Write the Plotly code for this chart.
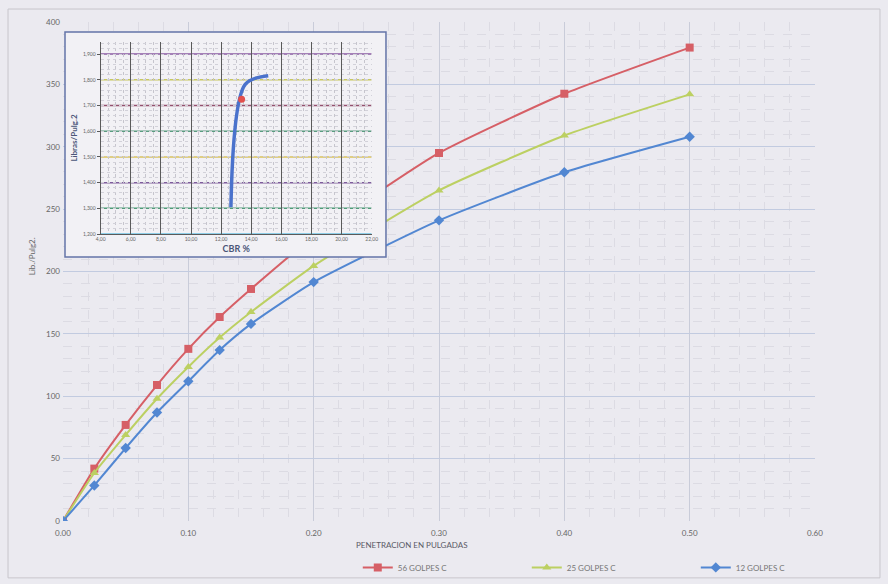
import plotly.graph_objects as go

# ---------------- data ----------------
penetracion = [0, 0.025, 0.05, 0.075, 0.1, 0.125, 0.15, 0.2, 0.3, 0.4, 0.5]
golpes_56 = [0, 42, 77, 109, 138, 163.5, 186, 228, 295, 342.5, 379.5]
golpes_25 = [0, 38.5, 69, 98, 123.5, 147, 167.5, 204.5, 265, 309, 342]
golpes_12 = [0, 28.5, 58.5, 87, 112, 137, 158, 191.5, 241, 279.5, 308]
series_names = ["56 GOLPES C", "25 GOLPES C", "12 GOLPES C"]

main_x_ticks = [0, 0.1, 0.2, 0.3, 0.4, 0.5, 0.6]
main_x_labels = ["0.00", "0.10", "0.20", "0.30", "0.40", "0.50", "0.60"]
main_y_ticks = [0, 50, 100, 150, 200, 250, 300, 350, 400]

# inset (CBR vs density)
cbr_values = [12.65, 13.6, 15.13]
dens_values = [1.304, 1.782, 1.816]
cbr_point = [13.36]
dens_point = [1.724]
cbr_ticks = [4, 6, 8, 10, 12, 14, 16, 18, 20, 22]
cbr_labels = ["4,00", "6,00", "8,00", "10,00", "12,00", "14,00", "16,00", "18,00", "20,00", "22,00"]
dens_ticks = [1.2, 1.3, 1.4, 1.5, 1.6, 1.7, 1.8, 1.9]
dens_labels = ["1,200", "1,300", "1,400", "1,500", "1,600", "1,700", "1,800", "1,900"]
dens_grid_colors = ["#6cc0e0", "#4f9c78", "#7e5c9c", "#d9c25e", "#5a9c80", "#94506e", "#c8c85e", "#8a5aa2"]
inset_x_range = [4, 22]
inset_y_range = [1.2, 1.947]

FONT = "Lato"
BG = "#ebeaf0"

fig = go.Figure()

styles = [
    dict(color="#d65f66", symbol="square", size=8),
    dict(color="#bcd062", symbol="triangle-up", size=8),
    dict(color="#5287d2", symbol="diamond", size=8),
]
for name, ys, st in zip(series_names, [golpes_56, golpes_25, golpes_12], styles):
    fig.add_trace(go.Scatter(
        x=penetracion, y=ys, name=name, mode="lines+markers",
        line=dict(color=st["color"], width=2, shape="spline", smoothing=0.5),
        marker=dict(color=st["color"], symbol=st["symbol"], size=st["size"]),
        xaxis="x", yaxis="y",
    ))

# frame subplot for inset (covers main chart)
fig.add_trace(go.Scatter(x=[], y=[], xaxis="x2", yaxis="y2", showlegend=False, hoverinfo="skip"))

# inset curve
fig.add_trace(go.Scatter(
    x=cbr_values, y=dens_values, mode="lines", showlegend=False,
    line=dict(color="#4a72cc", width=3.5, shape="spline", smoothing=0.9),
    xaxis="x3", yaxis="y3",
))
fig.add_trace(go.Scatter(
    x=cbr_point, y=dens_point, mode="markers", showlegend=False,
    marker=dict(color="#e2504c", size=7, symbol="circle"),
    xaxis="x3", yaxis="y3",
))

shapes = []
# inset frame fill (in x2y2 so it hides main chart)
shapes.append(dict(type="rect", xref="x2", yref="y2", x0=0, x1=1, y0=0, y1=1,
                   fillcolor="#f2f1f5", line=dict(width=0), layer="below"))
# inset frame border
shapes.append(dict(type="rect", xref="paper", yref="paper", x0=0.00266, x1=0.4295, y0=0.529, y1=0.98,
                   fillcolor="rgba(0,0,0,0)", line=dict(color="#6474a8", width=1.5), layer="above"))
# colored horizontal gridlines of inset
for v, c in zip(dens_ticks, dens_grid_colors):
    shapes.append(dict(type="line", xref="x3", yref="y3", x0=inset_x_range[0], x1=inset_x_range[1],
                       y0=v, y1=v, line=dict(color=c, width=1.5), layer="below"))
# outer page border
shapes.append(dict(type="rect", xref="paper", yref="paper", x0=-0.0731, x1=1.0864, y0=-0.114, y1=1.026,
                   fillcolor="rgba(0,0,0,0)", line=dict(color="#c8c6cc", width=1), layer="below"))

fig.update_layout(
    width=888, height=584,
    margin=dict(l=63, r=73, t=22, b=63, autoexpand=False),
    paper_bgcolor=BG, plot_bgcolor="rgba(0,0,0,0)",
    font=dict(family=FONT, size=9, color="#666666"),
    shapes=shapes,
    showlegend=True,
    legend=dict(orientation="h", x=0.392, xanchor="left", y=-0.093, yanchor="middle",
                entrywidth=124, entrywidthmode="pixels", itemwidth=30,
                font=dict(family=FONT, size=8, color="#777777"), bgcolor="rgba(0,0,0,0)"),
    xaxis=dict(domain=[0, 1], range=[0, 0.6], tickvals=main_x_ticks, ticktext=main_x_labels,
               showgrid=True, gridcolor="#c9ccd9", gridwidth=1, zeroline=False, showline=False,
               ticks="", tickfont=dict(size=8, color="#666"), anchor="y", ticklabelstandoff=6,
               minor=dict(dtick=0.02, showgrid=True, gridcolor="#dcdbe3", griddash="dash", gridwidth=1)),
    yaxis=dict(domain=[0, 1], range=[0, 400], tickvals=main_y_ticks,
               showgrid=True, gridcolor="#c2cbe0", gridwidth=1, zeroline=False, showline=False,
               ticks="", tickfont=dict(size=8, color="#666"), anchor="x", ticklabelstandoff=2,
               minor=dict(dtick=10, showgrid=True, gridcolor="#dcdbe3", griddash="dash", gridwidth=1)),
    xaxis2=dict(domain=[0.00266, 0.4295], range=[0, 1], visible=False, anchor="y2", fixedrange=True),
    yaxis2=dict(domain=[0.529, 0.98], range=[0, 1], visible=False, anchor="x2", fixedrange=True),
    xaxis3=dict(domain=[0.0501, 0.4105], range=inset_x_range, anchor="y3",
                tickvals=cbr_ticks, ticktext=cbr_labels, tickfont=dict(size=5, color="#666"),
                showgrid=True, gridcolor="#5a5a5a", gridwidth=1, zeroline=False,
                showline=True, linecolor="#5a5a5a", ticks="", ticklen=2,
                minor=dict(dtick=0.5, showgrid=True, gridcolor="#c6c5cd", griddash="dot"),
                title=dict(text="<b>CBR %</b>", font=dict(size=9, color="#4a5578"), standoff=4)),
    yaxis3=dict(domain=[0.575, 0.96], range=inset_y_range, anchor="x3",
                tickvals=dens_ticks, ticktext=dens_labels, tickfont=dict(size=5, color="#666"),
                showgrid=False, zeroline=False, showline=True, linecolor="#5a5a5a",
                ticks="outside", ticklen=3, tickcolor="#5a5a5a",
                minor=dict(dtick=0.02, showgrid=True, gridcolor="#d2d1d9", griddash="dot"),
                title=dict(text="<b>Libras/Pulg.2</b>", font=dict(size=8, color="#4a5578"), standoff=4)),
    annotations=[
        dict(text="PENETRACION EN PULGADAS", xref="paper", yref="paper", x=0.464, y=-0.049,
             showarrow=False, font=dict(size=8, color="#5a5a66", family=FONT), xanchor="center", yanchor="middle"),
        dict(text="Lib./Pulg2.", xref="paper", yref="paper", x=-0.041, y=0.531, textangle=-90,
             showarrow=False, font=dict(size=8, color="#666", family=FONT), xanchor="center", yanchor="middle"),
    ],
)

fig.write_html("out.html")
